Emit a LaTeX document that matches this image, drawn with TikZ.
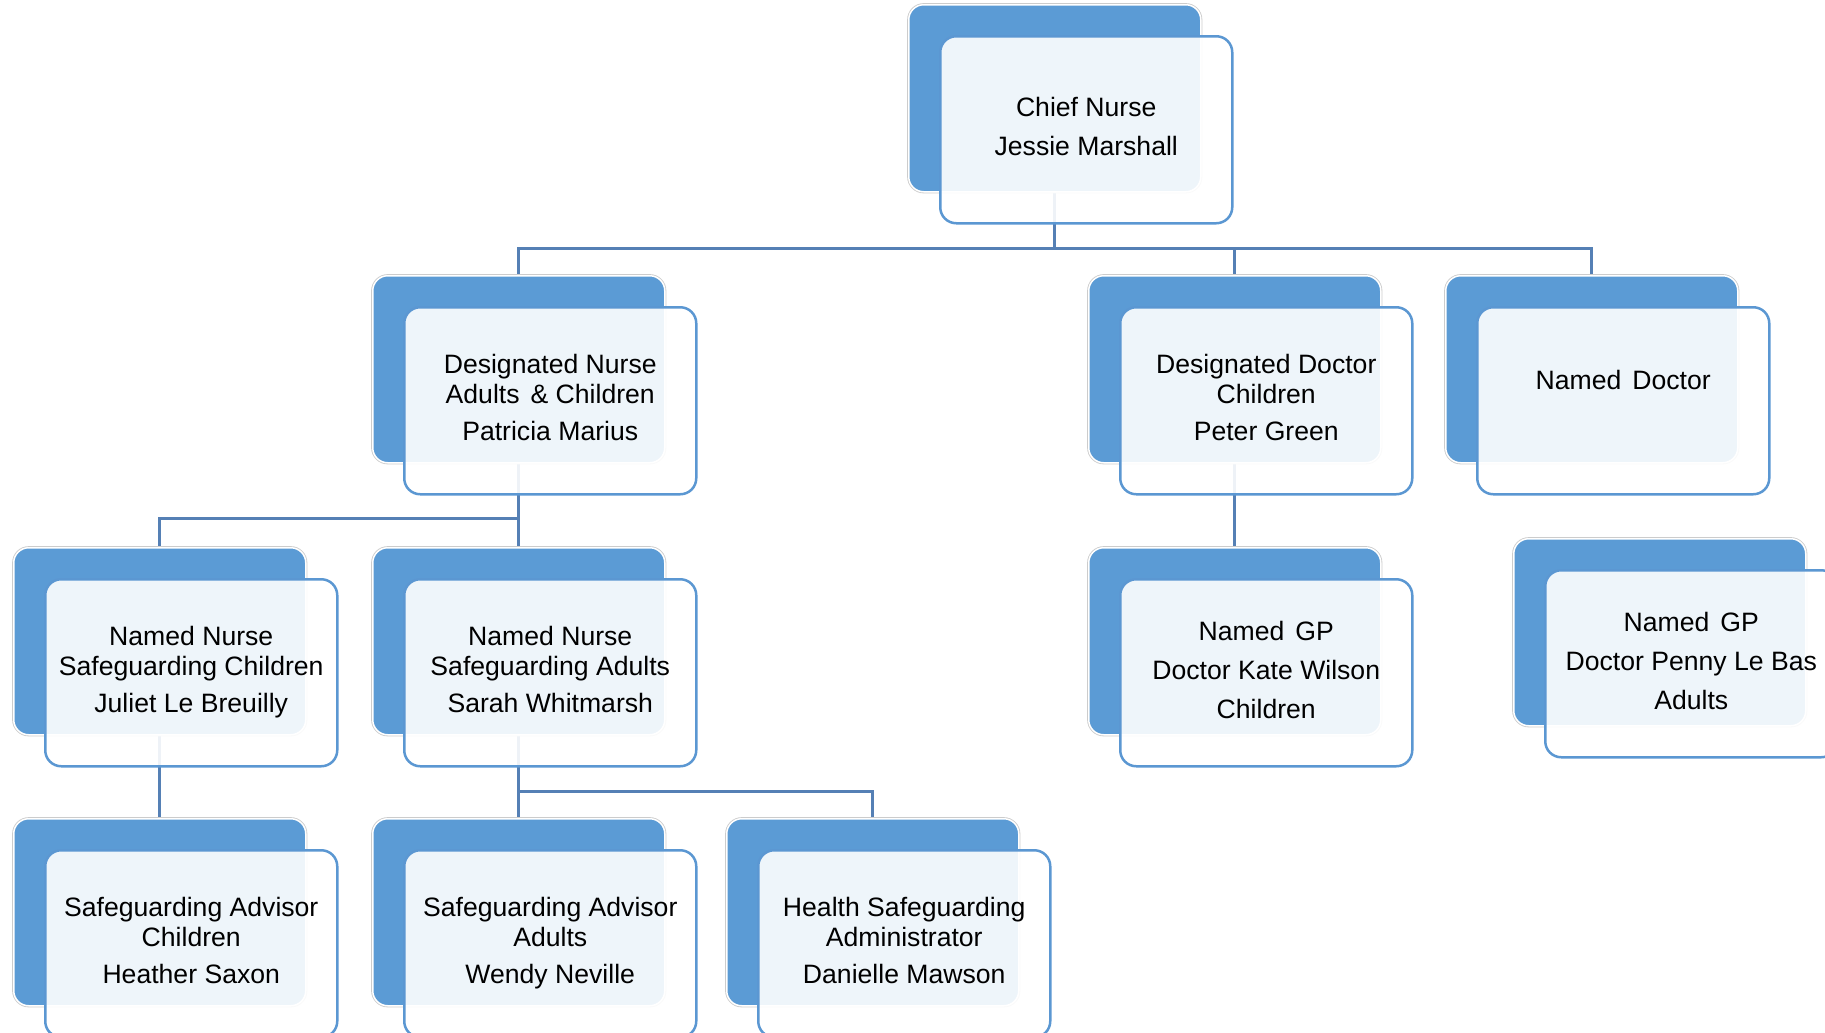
\documentclass[tikz,border=0pt]{standalone}
\usepackage{fontspec}
\setmainfont{Liberation Sans}
\usetikzlibrary{backgrounds}
\definecolor{backblue}{HTML}{5B9BD5}
\definecolor{frontline}{HTML}{5B97D2}
\definecolor{connblue}{HTML}{5580B5}
\newcommand\dsp{\hspace{11bp}}
\tikzset{
  backbox/.style={anchor=north west, minimum width=292bp, minimum height=187bp,
    rounded corners=15bp, fill=backblue, draw=white, line width=1.5bp,
    preaction={draw=black!20, line width=3.2bp}, inner sep=0pt},
  frontbox/.style={anchor=north west, minimum width=292bp, minimum height=187bp,
    rounded corners=16bp, fill=white, fill opacity=0.9,
    draw=frontline, line width=2.5bp, inner sep=0pt},
  txt/.style={inner sep=0pt, align=center, font=\fontsize{26.7}{29.5}\selectfont,
    execute at begin node=\strut, execute at end node=\strut},
  conn/.style={draw=connblue, line width=3bp}
}
\newcommand\orgunit[4]{%
  \node[backbox] (#1b) at (#2,#3) {};
  \node[frontbox] (#1f) at (#2+31,#3+31) {};
  \node[txt] (#1t) at ([yshift=-1.3bp]#1f.center) {#4};}
\begin{document}
\begin{tikzpicture}[x=1bp,y=-1bp]
\useasboundingbox (0,0) rectangle (1825,1032);
% row 0
\orgunit{chief}{908}{4}{Chief Nurse\\[9.5bp]Jessie Marshall}
% row 1
\orgunit{dn}{372}{275}{Designated Nurse\\Adults\dsp\&\ Children\\[8.5bp]Patricia Marius}
\orgunit{dd}{1088}{275}{Designated Doctor\\Children\\[8.5bp]Peter Green}
\orgunit{nd}{1445}{275}{Named\dsp Doctor\\[7bp]\mbox{}}
% row 2
\orgunit{nnc}{13}{547}{Named Nurse\\Safeguarding Children\\[8.5bp]Juliet Le Breuilly}
\orgunit{nna}{372}{547}{Named Nurse\\Safeguarding Adults\\[8.5bp]Sarah Whitmarsh}
\orgunit{gpk}{1088}{547}{Named\dsp GP\\[9.5bp]Doctor Kate Wilson\\[9.5bp]Children}
\orgunit{gpa}{1513}{538}{Named\dsp GP\\[9.5bp]Doctor Penny Le Bas\\[9.5bp]Adults}
% row 3
\orgunit{sac}{13}{818}{Safeguarding Advisor\\Children\\[8.5bp]Heather Saxon}
\orgunit{saa}{372}{818}{Safeguarding Advisor\\Adults\\[8.5bp]Wendy Neville}
\orgunit{hsa}{726}{818}{Health Safeguarding\\Administrator\\[8.5bp]Danielle Mawson}
% connectors
\coordinate (bus0) at (0,248);
\coordinate (bus1) at (0,518);
\coordinate (bus2) at (0,791);
\begin{scope}[on background layer]
\draw[conn] (chiefb.south) -- (chiefb.south |- bus0);
\draw[conn] (dnb.north) -- (dnb.north |- bus0) -- (ndb.north |- bus0) -- (ndb.north);
\draw[conn] (ddb.north) -- (ddb.north |- bus0);
\draw[conn] (dnb.south) -- (nnab.north);
\draw[conn] (dnb.south |- bus1) -- (nncb.north |- bus1) -- (nncb.north);
\draw[conn] (ddb.south) -- (gpkb.north);
\draw[conn] (nncb.south) -- (sacb.north);
\draw[conn] (nnab.south) -- (saab.north);
\draw[conn] (nnab.south |- bus2) -- (hsab.north |- bus2) -- (hsab.north);
\end{scope}
\end{tikzpicture}
\end{document}
